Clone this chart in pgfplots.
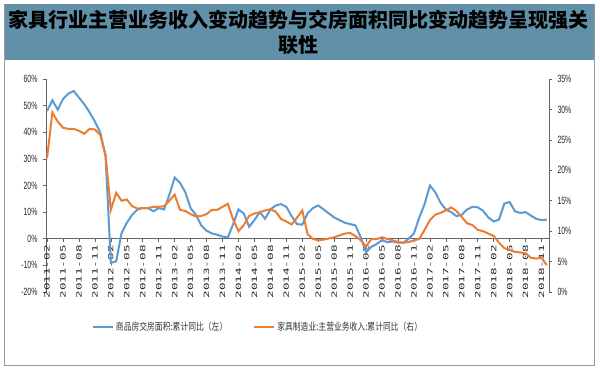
\documentclass[border=0pt]{standalone}
\usepackage{pgfplots}
\usepackage{pgfplotstable}
\pgfplotsset{compat=1.18}
\usepackage{fontspec}
\setmainfont{Liberation Sans}
\newfontfamily\cjk{Noto Sans CJK SC}
\newfontfamily\cjkleg[FakeStretch=0.78]{Noto Sans CJK SC}
\newfontfamily\yfont[FakeStretch=0.66]{Liberation Sans}
\newfontfamily\xfont[FakeStretch=1.75]{DejaVu Sans Mono}
\definecolor{barbg}{RGB}{96,145,168}
\definecolor{sblue}{RGB}{91,155,213}
\definecolor{sorange}{RGB}{237,125,49}
\definecolor{axgray}{RGB}{100,100,100}

\pgfplotstableread{
idx blue orange
0 48 22
1 52 29.5
2 48.5 28
3 52.5 27
4 54.5 26.8
5 55.5 26.8
6 53 26.5
7 50.5 26
8 47.5 26.8
9 44 26.7
10 40 25.8
11 31 22.5
12 -9 13.5
13 -8.5 16.3
14 2 15
15 6 15.2
16 9 14.1
17 11 13.7
18 11.5 13.8
19 11.5 13.8
20 10.3 14
21 11.5 14
22 11 14.1
23 16.5 15
24 23 16
25 21 13.5
26 17.5 13.3
27 11.5 12.8
28 9 12.4
29 5 12.5
30 3 12.8
31 2 13.5
32 1.5 13.5
33 0.8 14
34 0.5 14.5
35 5.5 11.9
36 11 10
37 9.5 11
38 4.5 12.5
39 7 12.9
40 10 13.1
41 7.5 13.4
42 11 13.6
43 12.5 13.2
44 13 12
45 12 11.6
46 8.5 11.1
47 5.5 12.2
48 5.3 13.4
49 9.5 9.5
50 11.5 8.7
51 12.5 8.5
52 11 8.6
53 9.5 8.8
54 8 9
55 7 9.3
56 6 9.6
57 5.5 9.7
58 5 9.2
59 0.5 8.5
60 -5 7.5
61 -3 8.7
62 -2 8.7
63 -0.5 9
64 -1.3 8.7
65 -1 8.5
66 -1.5 8.2
67 -1.5 8.1
68 0 8.2
69 2 8.5
70 8 8.7
71 13 10.2
72 20 11.8
73 17.5 12.7
74 13.5 13
75 11 13.4
76 10 13.9
77 8.5 13.3
78 9 12.3
79 11 11.3
80 12 11
81 11.8 10.2
82 10.5 10
83 8 9.6
84 6.5 9.2
85 7.2 8.1
86 13.2 7.2
87 13.8 6.9
88 10.3 6.6
89 9.7 6.5
90 10 6.4
91 8.7 5.6
92 7.5 5.5
93 7 5.6
94 7.2 4.4
}\datatable

\pgfplotsset{
  common/.style={
    at={(46pt,77pt)}, anchor=south west, scale only axis,
    width=503pt, height=213pt,
    xmin=-0.2, xmax=94.4,
    /pgf/number format/assume math mode=true,
    tick align=outside, major tick length=3pt,
    tick style={axgray, line width=0.6pt},
    axis line style={axgray, line width=0.8pt},
    yticklabel style={font=\yfont\fontsize{10.5}{11}\selectfont, text=black!85},
    hide obscured x ticks=false, hide obscured y ticks=false,
    clip=false,
  }
}

\begin{document}
\begin{tikzpicture}
\path[use as bounding box] (0pt,0pt) rectangle (600pt,369pt);
\fill[white] (0pt,0pt) rectangle (600pt,369pt);
\draw[black!40, line width=1pt] (4.5pt,3pt) rectangle (594pt,364.5pt);
\fill[barbg] (4.5pt,308.5pt) rectangle (594pt,364.5pt);
\node[font=\cjk\bfseries\fontsize{20}{25}\selectfont, align=center, inner sep=0pt] at (299pt,336.5pt) {家具行业主营业务收入变动趋势与交房面积同比变动趋势呈现强关\\联性};

\begin{axis}[common,
  ymin=-20, ymax=60, ytick={-20,-10,...,60},
  axis y line*=left, axis x line*=middle,
  yticklabel={\pgfmathprintnumber{\tick}\%},
  yticklabel style={xshift=-2pt},
  xtick={0,3,...,93},
  xticklabels={2011-02,2011-05,2011-08,2011-11,2012-02,2012-05,2012-08,2012-11,2013-02,2013-05,2013-08,2013-11,2014-02,2014-05,2014-08,2014-11,2015-02,2015-05,2015-08,2015-11,2016-02,2016-05,2016-08,2016-11,2017-02,2017-05,2017-08,2017-11,2018-02,2018-05,2018-08,2018-11},
  xticklabel style={rotate=90, anchor=east, font=\xfont\fontsize{7.2}{8}\selectfont, text=black!85},
]
\addplot[sblue, line width=2pt] table[x=idx, y=blue] {\datatable};
\end{axis}

\begin{axis}[common,
  ymin=0, ymax=35, ytick={0,5,...,35},
  axis y line*=right, axis x line=none,
  yticklabel={\pgfmathprintnumber{\tick}\%},
  yticklabel style={xshift=2pt},
  legend columns=2,
  legend style={at={(0.4215,-0.164)}, anchor=center, draw=none, fill=none,
    font=\cjkleg\fontsize{10}{11}\selectfont, text=black!80,
    /tikz/every even column/.append style={column sep=24pt}},
  legend image code/.code={\draw[#1] (0pt,0pt) -- (20pt,0pt);},
]
\addlegendimage{sblue, line width=2pt}
\addlegendentry{商品房交房面积:累计同比（左）}
\addplot[sorange, line width=2pt] table[x=idx, y=orange] {\datatable};
\addlegendentry{家具制造业:主营业务收入:累计同比（右）}
\end{axis}
\end{tikzpicture}
\end{document}
